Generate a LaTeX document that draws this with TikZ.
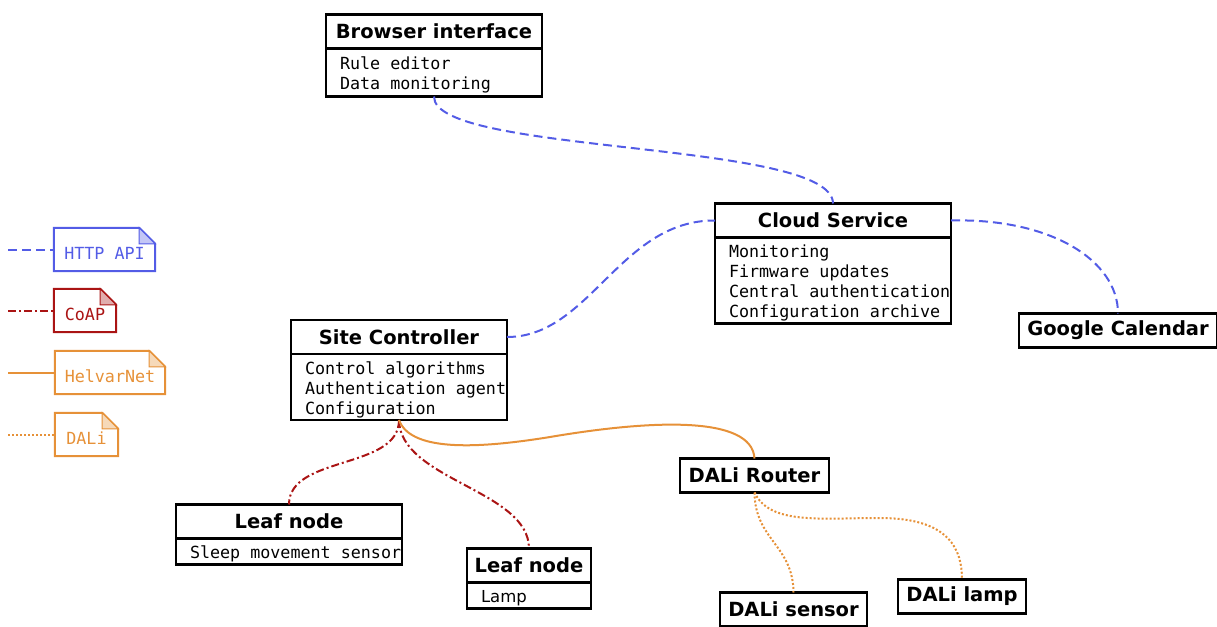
\documentclass[tikz,border=0pt]{standalone}
\usepackage{fontspec}
\setmainfont{DejaVu Sans}
\newfontfamily\monofont{DejaVu Sans Mono}
\usetikzlibrary{positioning}
\definecolor{httpblue}{RGB}{83,92,230}
\definecolor{coapred}{RGB}{170,20,20}
\definecolor{helvar}{RGB}{230,145,56}
\tikzset{
    title/.style={draw,line width=2.2pt,inner sep=0pt,outer sep=0pt,minimum height=34pt,font=\bfseries\fontsize{19.5}{22}\selectfont},
    attrs/.style={draw,line width=2.2pt,inner xsep=14pt,inner ysep=3pt,outer sep=0pt,font=\monofont\fontsize{16.7}{20}\selectfont},
    legendnote/.style={inner sep=0pt,minimum height=43pt,font=\monofont\fontsize{16.7}{20}\selectfont},
    http/.style={httpblue,line width=2pt,dash pattern=on 9pt off 5pt},
    coap/.style={coapred,line width=2pt,dash pattern=on 8pt off 3pt on 2pt off 3pt},
    helvarnet/.style={helvar,line width=2pt},
    dali/.style={helvar,line width=2pt,dash pattern=on 2pt off 2pt}
}
\newcommand{\notebox}[2]{% node name, colour
    \draw[#2,line width=2pt] (#1.north west) -- ([xshift=-16pt]#1.north east) -- ([yshift=-16pt]#1.north east) -- (#1.south east) -- (#1.south west) -- cycle;
    \draw[#2,fill=#2!35,line width=1pt] ([xshift=-16pt]#1.north east) -- ([xshift=-16pt,yshift=-16pt]#1.north east) -- ([yshift=-16pt]#1.north east) -- cycle;
}
\newcommand{\lines}[1]{\spaceskip=0pt\xspaceskip=0pt\raisebox{-3pt}[\height][\depth]{\begin{tabular}{@{}l@{}}#1\end{tabular}}}
\newcommand{\lowered}[1]{\raisebox{-4pt}[\height][\depth]{#1}}
\begin{document}
\begin{tikzpicture}[x=1pt,y=-1pt]
    \useasboundingbox (0,0) rectangle (1217,626);

    % boxes
    \node[title,minimum width=216pt] (browser) at (434,31.5) {Browser interface};
    \node[attrs,text width=188pt,below=0pt of browser,inner ysep=4pt] (browser-a) {\lines{Rule editor\\Data monitoring}};

    \node[title,minimum width=236pt] (cloud) at (833,220.5) {Cloud Service};
    \node[attrs,text width=208pt,below=0pt of cloud] (cloud-a) {\lines{Monitoring\\Firmware updates\\Central authentication\\Configuration archive}};

    \node[title,minimum width=216pt] (site) at (399,337) {Site Controller};
    \node[attrs,text width=188pt,below=0pt of site] (site-a) {\lines{Control algorithms\\Authentication agent\\Configuration}};

    \node[title,minimum width=198pt] (google) at (1118,330.5) {Google Calendar};
    \node[title,minimum width=149pt] (router) at (754.5,475.5) {DALi Router};

    \node[title,minimum width=226pt] (leaf1) at (289,521.5) {Leaf node};
    \node[attrs,text width=198pt,below=0pt of leaf1] (leaf1-a) {\lines{Sleep movement sensor}};

    \node[title,minimum width=124pt] (leaf2) at (529,565.5) {Leaf node};
    \node[attrs,text width=96pt,below=0pt of leaf2,font=\fontsize{16.5}{20}\selectfont] (leaf2-a) {\lines{Lamp}};

    \node[title,minimum width=147pt] (sensor) at (793.5,609.5) {DALi sensor};
    \node[title,minimum width=128pt] (lamp) at (962,596.5) {DALi lamp};

    % legend
    \node[legendnote,minimum width=101pt,httpblue] (l-http) at (104.5,249.5) {\lowered{HTTP API}};
    \node[legendnote,minimum width=62pt,coapred] (l-coap) at (85,310.5) {\lowered{CoAP}};
    \node[legendnote,minimum width=110pt,helvar] (l-helvar) at (110,372.5) {\lowered{HelvarNet}};
    \node[legendnote,minimum width=63pt,helvar] (l-dali) at (86.5,434.5) {\lowered{DALi}};
    \notebox{l-http}{httpblue}
    \notebox{l-coap}{coapred}
    \notebox{l-helvar}{helvar}
    \notebox{l-dali}{helvar}
    \coordinate (s-http) at (8,249.5);
    \coordinate (s-coap) at (8,310.5);
    \coordinate (s-helvar) at (8,372.5);
    \coordinate (s-dali) at (8,434.5);
    \draw[http] (s-http) -- (l-http);
    \draw[coap] (s-coap) -- (l-coap);
    \draw[helvarnet] (s-helvar) -- (l-helvar);
    \draw[dali] (s-dali) -- (l-dali);

    % links
    \draw[http] (browser-a.south) .. controls (433,155) and (833,140) .. (cloud.north);
    \draw[http] (site.east) .. controls (590,337) and (620,220) .. (cloud.west);
    \draw[http] (cloud.east) .. controls (1050,218) and (1118,260) .. (google.north);

    \draw[coap] (site-a.south) .. controls (399,470) and (289,455) .. (leaf1.north);
    \draw[coap] (site-a.south) .. controls (400,480) and (529,490) .. (leaf2.north);
    \draw[helvarnet] (site-a.south) .. controls (410,450) and (470,450) .. (550,437) .. controls (650,420) and (752,415) .. (router.north);

    \draw[dali] (router.south) .. controls (755,540) and (793,545) .. (sensor.north);
    \draw[dali] (router.south) .. controls (770,525) and (820,518) .. (880,518) .. controls (950,518) and (962,550) .. (lamp.north);
\end{tikzpicture}
\end{document}
